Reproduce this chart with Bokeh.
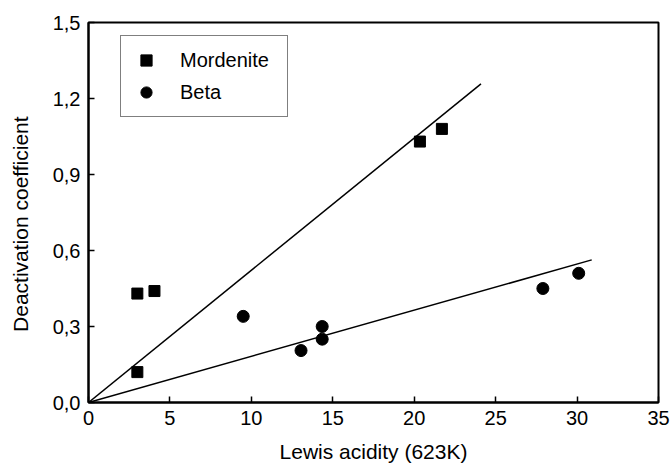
from bokeh.plotting import figure
from bokeh.models import Range1d, FixedTicker, CustomJSTickFormatter, Legend, LegendItem
from bokeh.embed import file_html
from bokeh.resources import INLINE

# Data
mord_x = [3.0, 4.05, 3.0, 20.35, 21.7]
mord_y = [0.43, 0.44, 0.12, 1.03, 1.08]
beta_x = [9.5, 13.05, 14.35, 14.35, 27.9, 30.1]
beta_y = [0.34, 0.205, 0.30, 0.25, 0.45, 0.51]
mord_fit_x = [0, 24.1]
mord_fit_y = [0, 1.258]
beta_fit_x = [0, 30.9]
beta_fit_y = [0, 0.563]
x_ticks = [0, 5, 10, 15, 20, 25, 30, 35]
y_ticks = [0.0, 0.3, 0.6, 0.9, 1.2, 1.5]
x_label = "Lewis acidity (623K)"
y_label = "Deactivation coefficient"

FONT = "Liberation Sans"

p = figure(width=670, height=465, output_backend="svg", toolbar_location=None,
           x_range=Range1d(0, 35), y_range=Range1d(0, 1.5),
           min_border_left=88, min_border_right=12, min_border_top=22, min_border_bottom=63)

p.xgrid.visible = False
p.ygrid.visible = False
p.outline_line_color = "black"
p.outline_line_width = 2
p.background_fill_color = "white"
p.border_fill_color = "white"

for ax in (p.xaxis[0], p.yaxis[0]):
    ax.axis_line_width = 2
    ax.axis_line_color = "black"
    ax.major_tick_in = 6
    ax.major_tick_out = 0
    ax.major_tick_line_width = 1.5
    ax.minor_tick_line_color = None
    ax.major_label_text_font = FONT
    ax.major_label_text_font_size = "20px"
    ax.major_label_text_color = "black"
    ax.axis_label_text_font = FONT
    ax.axis_label_text_font_size = "21px"
    ax.axis_label_text_font_style = "normal"
    ax.axis_label_text_color = "black"

p.xaxis.ticker = FixedTicker(ticks=x_ticks)
p.yaxis.ticker = FixedTicker(ticks=y_ticks)
p.yaxis.formatter = CustomJSTickFormatter(code="return tick.toFixed(1).replace('.', ',');")
p.xaxis.axis_label = x_label
# trailing non-breaking spaces shift the rotated label slightly downward, as in the original
p.yaxis.axis_label = y_label + "\u00a0" * 4
p.xaxis.major_label_standoff = 8
p.yaxis.major_label_standoff = 8
p.xaxis.axis_label_standoff = 12
p.yaxis.axis_label_standoff = 18

p.line(mord_fit_x, mord_fit_y, line_color="black", line_width=1.5)
p.line(beta_fit_x, beta_fit_y, line_color="black", line_width=1.5)

r_m = p.scatter(mord_x, mord_y, marker="square", size=11, fill_color="black", line_color="black")
r_b = p.scatter(beta_x, beta_y, marker="circle", size=12, fill_color="black", line_color="black")

legend = Legend(items=[LegendItem(label="Mordenite", renderers=[r_m]),
                       LegendItem(label="Beta", renderers=[r_b])],
                location=(32, 285))
legend.glyph_width = 30
legend.glyph_height = 28
legend.label_height = 28
legend.label_width = 97
legend.spacing = 4
legend.padding = 10
legend.margin = 0
legend.label_standoff = 19
legend.label_text_font = FONT
legend.label_text_font_size = "20px"
legend.label_text_color = "black"
legend.border_line_color = "black"
legend.border_line_width = 1.5
legend.background_fill_alpha = 1
p.add_layout(legend, "center")

open("out.html", "w").write(file_html(p, INLINE))
